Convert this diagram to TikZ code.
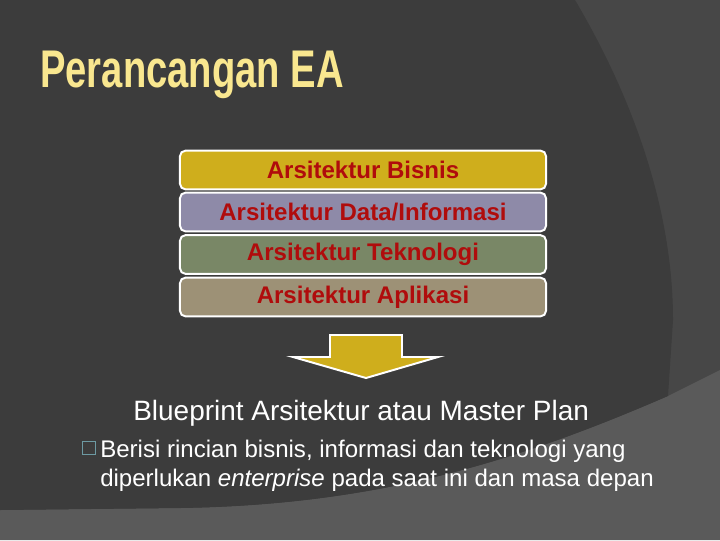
\documentclass[tikz,border=0pt]{standalone}
\usepackage{fontspec}
\setmainfont{Liberation Sans}
\usepackage{graphicx}
\definecolor{bgdark}{HTML}{3C3C3C}
\definecolor{bgmid}{HTML}{474747}
\definecolor{bglight}{HTML}{5A5A5A}
\definecolor{titleyellow}{HTML}{F9E78F}
\definecolor{txtred}{HTML}{B00C0C}
\definecolor{bisnisgold}{HTML}{CFAE1C}
\definecolor{datalav}{HTML}{8E8AA8}
\definecolor{teknogreen}{HTML}{798766}
\definecolor{aplikhaki}{HTML}{9D9176}
\definecolor{bulletblue}{HTML}{6D9AA3}
\tikzset{
  layer/.style={draw=white, line width=1.4pt, rounded corners=4pt,
    minimum width=9.15cm, minimum height=0.97cm, inner sep=0pt,
    text=txtred, font=\fontsize{17.1}{20}\selectfont\bfseries},
}
\begin{document}
\begin{tikzpicture}[x=0.025cm,y=-0.025cm]
                \useasboundingbox (0,0) rectangle (720,540);%

                % Drawing background
                \fill [bgmid] (0,0) rectangle (720,540);%
                \fill [bglight] (0,510) -- (180,508) .. controls (380,505) and (520,460) .. (668,396) -- (720,370) -- (720,540) -- (0,540) -- cycle;%
                \fill [bgdark] (0,0) -- (575,0) .. controls (640,110) and (673,220) .. (673,320) -- (668,396) .. controls (520,460) and (380,505) .. (180,508) -- (0,510) -- cycle;%

                % Drawing title
                \node (title) [anchor=base west, inner sep=0pt, text=titleyellow, font=\fontsize{37.7}{40}\selectfont\bfseries] at (40,87) {\scalebox{0.72}[1]{Perancangan EA}};%

                % Drawing layers
                \node (bisnis) [layer, fill=bisnisgold] at (363,170) {Arsitektur Bisnis};%
                \node (data) [layer, fill=datalav] at (363,212) {Arsitektur Data/Informasi};%
                \node (tekno) [layer, fill=teknogreen] at (363,254.5) {Arsitektur Teknologi};%
                \node (aplikasi) [layer, fill=aplikhaki] at (363,297) {Arsitektur Aplikasi};%

                % Drawing arrow
                \draw [draw=white, line width=1.4pt, fill=bisnisgold, line join=miter] (330,335) -- (402,335) -- (402,357) -- (438,357) -- (366,378) -- (293,357) -- (330,357) -- cycle;%

                % Marking blueprint
                \node (blueprint) [anchor=base west, inner sep=0pt, text=white, font=\fontsize{19.9}{22}\selectfont] at (133,420) {Blueprint Arsitektur atau Master Plan};%

                % Marking bullet text
                \node (bullet) [draw=bulletblue, line width=0.9pt, minimum size=0.33cm, inner sep=0pt] at (89,448) {};%
                \node (berisi) [anchor=base west, inner sep=0pt, text=white, font=\fontsize{17.1}{20}\selectfont] at (100,457) {Berisi rincian bisnis, informasi dan teknologi yang};%
                \node (diperlukan) [anchor=base west, inner sep=0pt, text=white, font=\fontsize{17.1}{20}\selectfont] at (100,486) {diperlukan \textit{enterprise} pada saat ini dan masa depan};%
\end{tikzpicture}
\end{document}
